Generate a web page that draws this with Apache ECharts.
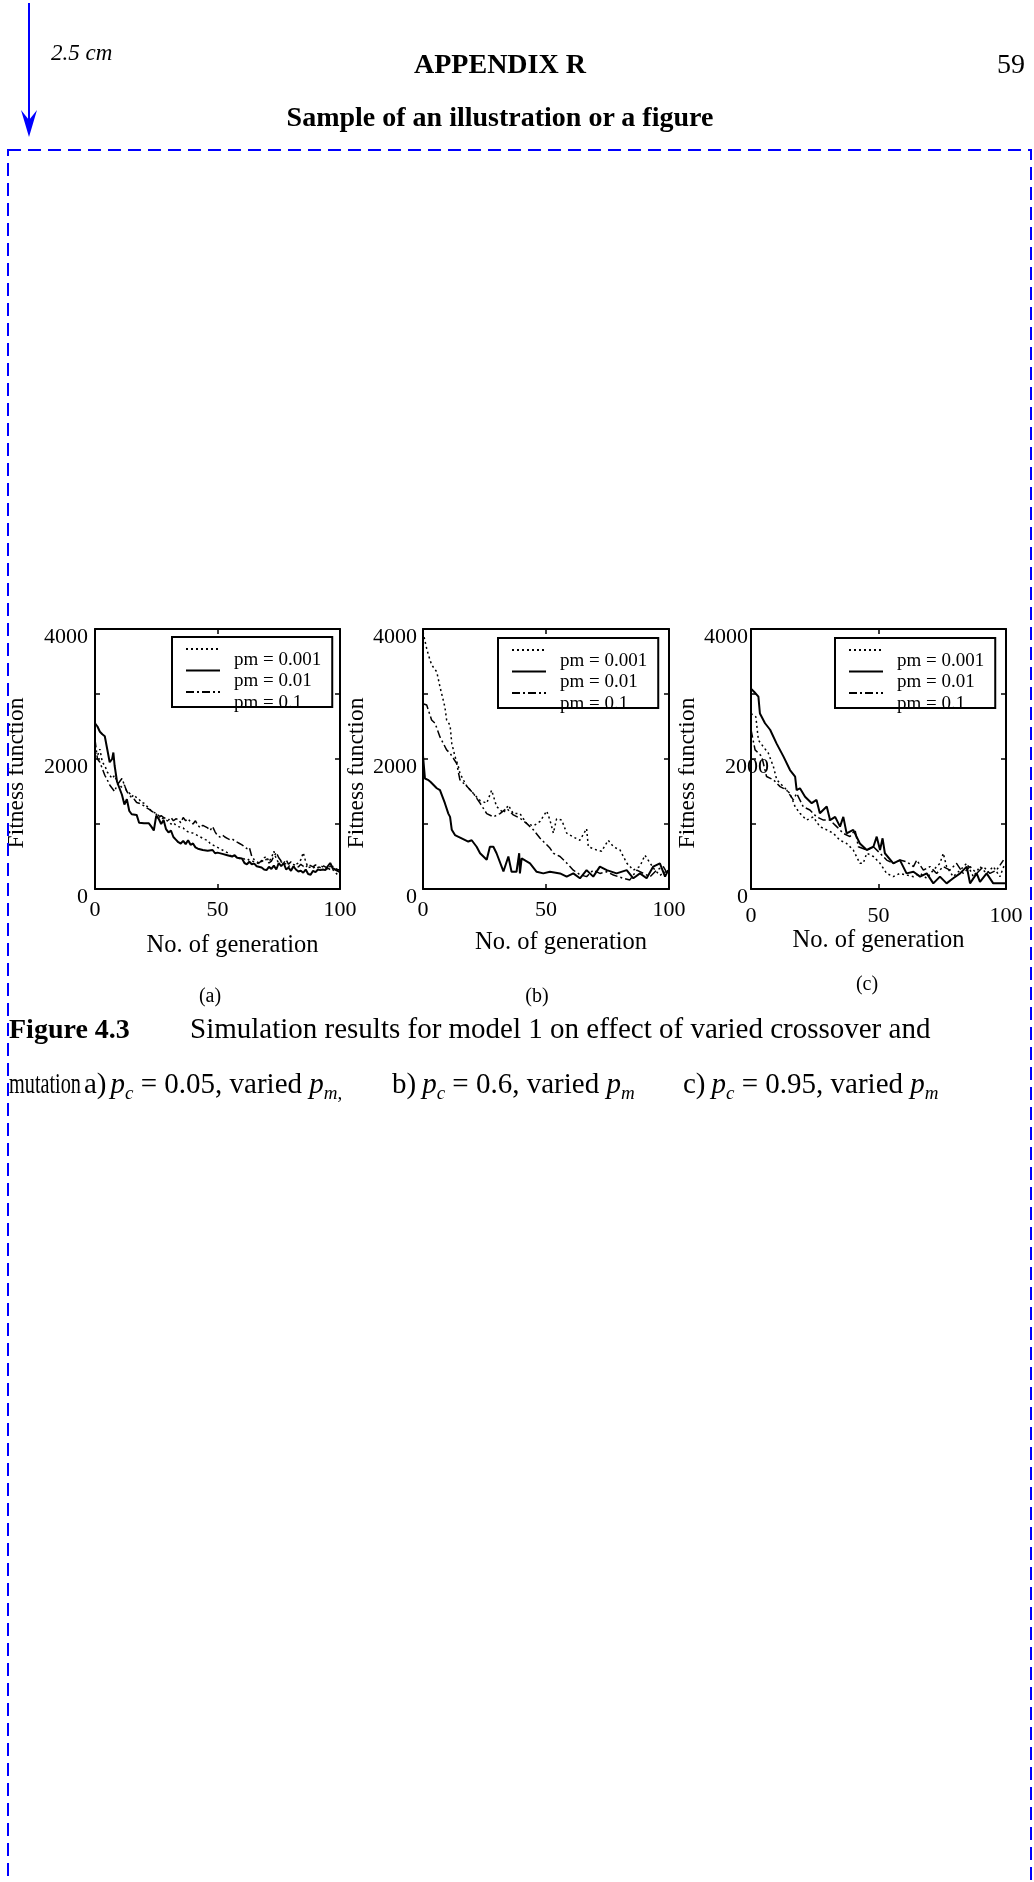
<!DOCTYPE html>
<html>
<head>
<meta charset="utf-8">
<script src="https://cdn.jsdelivr.net/npm/echarts@6/dist/echarts.min.js"></script>
<style>
  html, body { margin: 0; padding: 0; background: #fff; }
  #page { position: relative; width: 1034px; height: 1882px; overflow: hidden; }
  #chart { position: absolute; left: 0; top: 0; width: 1034px; height: 1882px; }
  #deco { position: absolute; left: 0; top: 0; width: 1034px; height: 1882px; pointer-events: none; }
  #deco text { font-family: 'Liberation Serif', 'Times New Roman', serif; fill: #000; }
</style>
</head>
<body>
<div id="page">
  <div id="chart"></div>
  <svg id="deco" width="1034" height="1882" viewBox="0 0 1034 1882">
    <!-- page margin marker -->
    <line x1="29" y1="3" x2="29" y2="124" stroke="#0000ff" stroke-width="2"/>
    <polygon points="21,110 29,120 37,110 29,137" fill="#0000ff"/>
    <rect x="8" y="150" width="1023" height="1760" fill="none" stroke="#0000ff" stroke-width="2" stroke-dasharray="13 7"/>
    <text x="51" y="60" font-size="23" font-style="italic">2.5 cm</text>
    <text x="500" y="73" font-size="28" font-weight="bold" text-anchor="middle">APPENDIX R</text>
    <text x="997" y="73" font-size="28">59</text>
    <text x="500" y="126" font-size="28" font-weight="bold" text-anchor="middle">Sample of an illustration or a figure</text>
    <!-- panel letters -->
    <text x="210" y="1002" font-size="20" text-anchor="middle">(a)</text>
    <text x="537" y="1002" font-size="20" text-anchor="middle">(b)</text>
    <text x="867" y="990" font-size="20" text-anchor="middle">(c)</text>
    <!-- caption -->
    <text x="9" y="1038" font-size="28" font-weight="bold">Figure 4.3</text>
    <text x="190" y="1038" font-size="29">Simulation results for model 1 on effect of varied crossover and</text>
    <text x="9" y="1093" font-size="29" textLength="72" lengthAdjust="spacingAndGlyphs">mutation</text>
    <text x="84" y="1093" font-size="29">a)<tspan dx="4" font-style="italic">p</tspan><tspan font-size="19" font-style="italic" dy="6">c</tspan><tspan dy="-6"> = 0.05, varied </tspan><tspan font-style="italic">p</tspan><tspan font-size="19" font-style="italic" dy="6">m,</tspan></text>
    <text x="392" y="1093" font-size="29">b)<tspan dx="6" font-style="italic">p</tspan><tspan font-size="19" font-style="italic" dy="6">c</tspan><tspan dy="-6"> = 0.6, varied </tspan><tspan font-style="italic">p</tspan><tspan font-size="19" font-style="italic" dy="6">m</tspan></text>
    <text x="683" y="1093" font-size="29">c)<tspan dx="6" font-style="italic">p</tspan><tspan font-size="19" font-style="italic" dy="6">c</tspan><tspan dy="-6"> = 0.95, varied </tspan><tspan font-style="italic">p</tspan><tspan font-size="19" font-style="italic" dy="6">m</tspan></text>
  </svg>
</div>
<script>
// ---------------- data ----------------
const seriesNames = ['pm = 0.001', 'pm = 0.01', 'pm = 0.1'];
const genTickInterval = 50;           // x ticks 0, 50, 100
const fitnessTickLabels = [0, 2000, 4000];

// Panel (a): pc = 0.05   [generation, fitness]
const a_pm0001 = [[0,2100],[1,2050],[2,2150],[3,1950],[4,1900],[5,1800],[6,1750],[7,1700],[8,1750],[9,1650],[10,1600],[11,1560],[12,1600],[13,1500],[14,1480],[15,1420],[16,1450],[17,1400],[18,1380],[19,1330],[20,1320],[21,1280],[22,1250],[23,1200],[24,1180],[25,1160],[26,1130],[27,1100],[28,1080],[29,1060],[30,1040],[31,1000],[32,1020],[33,980],[34,960],[35,950],[36,940],[37,900],[38,880],[39,870],[40,860],[41,840],[42,820],[43,800],[44,780],[45,760],[46,750],[47,700],[48,680],[49,660],[50,640],[51,620],[52,600],[53,580],[54,560],[55,520],[56,500],[57,510],[58,480],[59,470],[60,480],[61,460],[62,470],[63,440],[64,430],[65,420],[66,400],[67,390],[68,420],[69,480],[70,500],[71,420],[72,480],[73,580],[74,460],[75,400],[76,420],[77,380],[78,390],[79,350],[80,360],[81,340],[82,380],[83,400],[84,450],[85,560],[86,420],[87,330],[88,340],[89,320],[90,350],[91,330],[92,360],[93,340],[94,320],[95,300],[96,350],[97,300],[98,260],[99,220],[100,230]];
const a_pm001 = [[0,2550],[1,2500],[2,2420],[3,2380],[4,2350],[5,2150],[6,1950],[7,2000],[7.5,2100],[8,1900],[9,1650],[10,1550],[11,1450],[12,1300],[13,1380],[14,1200],[15,1150],[17,1140],[18,1020],[20,1010],[22,1010],[23,960],[24,900],[25,1130],[26,1080],[27,1000],[28,1060],[29,920],[30,870],[31,900],[32,800],[33,760],[34,720],[35,700],[36,740],[37,690],[38,750],[39,680],[40,700],[41,640],[42,620],[44,600],[46,590],[48,600],[49,550],[50,560],[52,540],[54,520],[56,500],[57,520],[58,480],[60,470],[61,400],[62,380],[63,420],[64,380],[65,390],[66,350],[68,330],[69,300],[70,290],[71,340],[72,310],[73,360],[74,300],[75,400],[76,350],[77,400],[78,300],[79,330],[80,280],[81,350],[82,300],[83,270],[84,280],[85,250],[86,300],[87,230],[88,220],[89,280],[90,260],[91,300],[92,290],[93,300],[94,290],[95,350],[96,400],[97,320],[98,300],[99,280],[100,260]];
const a_pm01 = [[0,2300],[1,2000],[2,1950],[3,1850],[4,1750],[5,1680],[6,1600],[7,1550],[8,1500],[9,1600],[10,1650],[11,1700],[12,1600],[13,1500],[14,1450],[15,1400],[16,1380],[17,1330],[18,1320],[19,1300],[20,1280],[21,1250],[22,1230],[23,1200],[24,1180],[25,1150],[26,1100],[27,1130],[28,1100],[29,1080],[30,1060],[31,1100],[32,1050],[33,1080],[34,1070],[35,1020],[36,1100],[37,1050],[38,1080],[39,1030],[40,1000],[41,1050],[42,980],[43,940],[44,980],[45,960],[46,940],[47,900],[48,960],[49,880],[50,820],[51,800],[52,830],[53,800],[54,780],[55,760],[56,770],[57,740],[58,720],[59,700],[60,680],[61,650],[62,620],[63,640],[64,500],[65,450],[66,420],[67,400],[68,440],[69,420],[70,460],[71,400],[72,430],[73,500],[74,560],[75,480],[76,430],[77,400],[78,450],[79,380],[80,420],[81,380],[82,360],[83,340],[84,380],[85,350],[86,330],[87,380],[88,360],[89,340],[90,370],[91,350],[92,330],[93,360],[94,340],[95,320],[96,300],[97,350],[98,320],[99,300],[100,290]];

// Panel (b): pc = 0.6
const b_pm0001 = [[0,3950],[1.5,3700],[2.2,3600],[3.5,3450],[5.6,3340],[6.9,3110],[8.9,2800],[9.6,2600],[11,2520],[11.7,2240],[13,2040],[14.4,1880],[15,1780],[17.8,1580],[20.5,1470],[23.2,1360],[25.9,1320],[27.9,1520],[29.9,1270],[32.7,1170],[34.7,1290],[36.7,1160],[39.4,1160],[42.1,1010],[44.9,970],[47.6,1040],[50.3,1200],[51.6,1060],[53,860],[54.3,1080],[56.4,1060],[58.4,860],[61.1,800],[63.8,750],[66.5,930],[67.2,650],[70.6,600],[72.6,580],[75.3,750],[77.4,650],[80.1,600],[82.8,400],[85.5,290],[88.2,350],[90.2,520],[92.3,400],[94.3,290],[96.3,210],[99.7,290]];
const b_pm001 = [[0,2050],[0.8,1700],[2,1680],[3,1650],[5.6,1550],[6.9,1520],[8.9,1320],[10.3,1160],[11,1110],[11.7,910],[13,830],[15.7,780],[18.4,730],[19.8,750],[21.8,650],[23.2,550],[25.9,450],[27.2,650],[28.6,650],[29.9,550],[32.7,270],[34.7,500],[36,265],[38,265],[39.1,550],[39.4,240],[40.1,470],[43.5,395],[46.2,265],[48.9,240],[51.6,265],[55.7,240],[58.4,190],[61.1,240],[63.8,165],[66.5,290],[69.2,190],[71.9,345],[74.7,290],[78.7,240],[82.8,290],[85.5,165],[88.2,240],[90.9,165],[93.6,345],[96.3,395],[98.4,190],[99.7,290]];
const b_pm01 = [[0,2850],[1.5,2830],[2.2,2750],[3.5,2600],[4.9,2550],[6.9,2340],[9.6,2140],[11,2090],[13.7,1930],[15,1680],[17.8,1580],[20.5,1470],[23.2,1320],[25.9,1160],[28.6,1110],[31.3,1160],[34,1240],[36.7,1140],[39.4,1090],[42.1,1010],[44.9,910],[47.6,780],[50.3,680],[51.6,630],[53,550],[55.7,500],[58.4,400],[61.1,290],[63.8,220],[66.5,190],[69.2,290],[71.9,240],[74.7,265],[77.4,215],[81.4,165],[84.1,140],[86.9,290],[89.6,240],[92.3,190],[95,290],[97.7,345],[99.7,215]];

// Panel (c): pc = 0.95
const c_pm0001 = [[0,2700],[1.9,2650],[2.9,2290],[4.8,2190],[6.8,2090],[8.8,1880],[10.1,1680],[12.7,1575],[15.3,1470],[17.3,1265],[19.2,1165],[21.8,1060],[24.4,1110],[27,960],[29.7,910],[32.3,856],[34.9,750],[37.5,700],[40.1,600],[42.7,395],[44,395],[45.4,550],[48,500],[50.6,395],[53.2,240],[55.8,190],[58.4,240],[61,215],[63.7,190],[66.3,240],[68.9,165],[71.5,290],[74.1,395],[75.4,550],[76.7,345],[79.3,190],[82,290],[84.6,395],[87.2,190],[89.8,345],[92.4,240],[95,345],[97.6,190],[99.6,395]];
const c_pm001 = [[0,3080],[1.2,3035],[2.9,2960],[3.5,2700],[5.5,2550],[7.5,2450],[10,2240],[12.7,2040],[15.3,1830],[17.3,1730],[17.9,1520],[19.2,1550],[21.2,1420],[23.8,1320],[25.7,1370],[27,1165],[29.7,1270],[31,1060],[33,1110],[34.9,960],[36.2,1110],[37.5,856],[40.1,910],[42.7,700],[45.4,600],[48,650],[49.3,805],[50.6,600],[51.6,780],[52.5,550],[55.8,395],[58.4,445],[61,240],[63.7,265],[66.3,190],[68.9,240],[71.5,87],[74.1,190],[76.7,87],[79.3,165],[82,240],[84.6,345],[85.9,87],[88.5,240],[89.8,110],[92.4,240],[95,87],[97.6,87],[99.6,87]];
const c_pm01 = [[0,2450],[1.6,2140],[4.2,2040],[6.1,1730],[8.8,1680],[11.4,1575],[14,1520],[16.6,1370],[17.9,1470],[20.5,1265],[23.1,1215],[25.7,1110],[28.4,1060],[31,1060],[33.6,960],[36.2,856],[38.8,805],[40.8,910],[42.1,650],[45.4,600],[48,650],[50.6,550],[53.2,445],[55.8,395],[58.4,445],[61,420],[63.7,345],[65,445],[67.6,290],[70.2,345],[72.8,240],[75.4,345],[78,290],[80.6,395],[83.2,240],[85.9,345],[88.5,240],[91.1,345],[93.7,240],[96.3,290],[99,445]];

const panels = [
  [a_pm0001, a_pm001, a_pm01],
  [b_pm0001, b_pm001, b_pm01],
  [c_pm0001, c_pm001, c_pm01]
];

// ---------------- layout / style ----------------
const FONT = "'Liberation Serif', 'Times New Roman', serif";
const grids = [
  { left: 95,  top: 629, width: 245, height: 260 },
  { left: 423, top: 629, width: 246, height: 260 },
  { left: 751, top: 629, width: 255, height: 260 }
];
const legendPos = [ { left: 172, top: 637 }, { left: 498, top: 638 }, { left: 835, top: 638 } ];
const yNameGap = [66, 40, 45];
const xNameGap = [44, 41, 29];
const xNamePad = [[0,0,0,30],[0,0,0,30],[0,0,0,0]];
const xLabelMargin = [10, 10, 16];
// panel (c) prints its middle y label over the frame
const yLabelMargin = [7, 6, -18];
const yLabelShift = [0, 0, 21];
const lineStyles = [
  { type: [2, 3], width: 1.5 },
  { type: 'solid', width: 2 },
  { type: [8, 3, 2, 3], width: 1.5 }
];

const xAxes = [], yAxes = [], series = [], legends = [];
grids.forEach((g, p) => {
  const axLine = { show: true, onZero: false, lineStyle: { color: '#000', width: 2 } };
  const tick = { show: true, inside: true, length: 5, lineStyle: { color: '#000', width: 1.5 } };
  xAxes.push({
    gridIndex: p, type: 'value', position: 'bottom', min: 0, max: 100, interval: genTickInterval,
    axisLine: axLine, axisTick: tick, splitLine: { show: false },
    axisLabel: { color: '#000', fontFamily: FONT, fontSize: 22, margin: xLabelMargin[p] },
    name: 'No. of generation', nameLocation: 'middle', nameGap: xNameGap[p],
    nameTextStyle: { color: '#000', fontFamily: FONT, fontSize: 24.5, padding: xNamePad[p] }
  });
  xAxes.push({
    gridIndex: p, type: 'value', position: 'top', min: 0, max: 100, interval: genTickInterval,
    axisLine: axLine, axisTick: tick, splitLine: { show: false }, axisLabel: { show: false }
  });
  const shift = yLabelShift[p];
  yAxes.push({
    gridIndex: p, type: 'value', position: 'left', min: 0, max: 4000, interval: 1000,
    axisLine: axLine, axisTick: tick, splitLine: { show: false },
    axisLabel: {
      color: '#000', fontFamily: FONT, fontSize: 22, margin: yLabelMargin[p],
      verticalAlign: 'top', lineHeight: 16,
      formatter: v => {
        if (!fitnessTickLabels.includes(v)) return '';
        if (shift && v !== 2000) return '{s|' + v + '}';
        return String(v);
      },
      rich: { s: { color: '#000', fontFamily: FONT, fontSize: 22, lineHeight: 16, padding: [0, shift, 0, 0] } }
    },
    name: 'Fitness function', nameLocation: 'middle', nameGap: yNameGap[p], nameRotate: 90,
    nameTextStyle: { color: '#000', fontFamily: FONT, fontSize: 23.5, padding: [0, 28, 0, 0] }
  });
  yAxes.push({
    gridIndex: p, type: 'value', position: 'right', min: 0, max: 4000, interval: 1000,
    axisLine: axLine, axisTick: tick, splitLine: { show: false }, axisLabel: { show: false }
  });
  panels[p].forEach((data, s) => {
    series.push({
      type: 'line', name: seriesNames[s], data: data,
      xAxisIndex: 2 * p, yAxisIndex: 2 * p,
      symbol: 'none', showSymbol: false, clip: true, animation: false,
      color: '#000', lineStyle: Object.assign({ color: '#000' }, lineStyles[s])
    });
  });
  legends.push({
    left: legendPos[p].left, top: legendPos[p].top, orient: 'vertical',
    data: seriesNames, selectedMode: false,
    itemWidth: 34, itemHeight: 14, itemGap: -22.5,
    padding: [-10, 11, -7, 13],
    itemStyle: { opacity: 0 },
    borderColor: '#000', borderWidth: 2, backgroundColor: 'rgba(0,0,0,0)',
    formatter: name => '\n' + name,
    textStyle: { color: '#000', fontFamily: FONT, fontSize: 19, lineHeight: 22, padding: [0, 0, 0, 9] }
  });
});

const chart = echarts.init(document.getElementById('chart'), null, { renderer: 'canvas' });
chart.setOption({
  animation: false,
  backgroundColor: '#fff',
  grid: grids.map(g => Object.assign({ containLabel: false }, g)),
  xAxis: xAxes,
  yAxis: yAxes,
  legend: legends,
  series: series
});
</script>
</body>
</html>
